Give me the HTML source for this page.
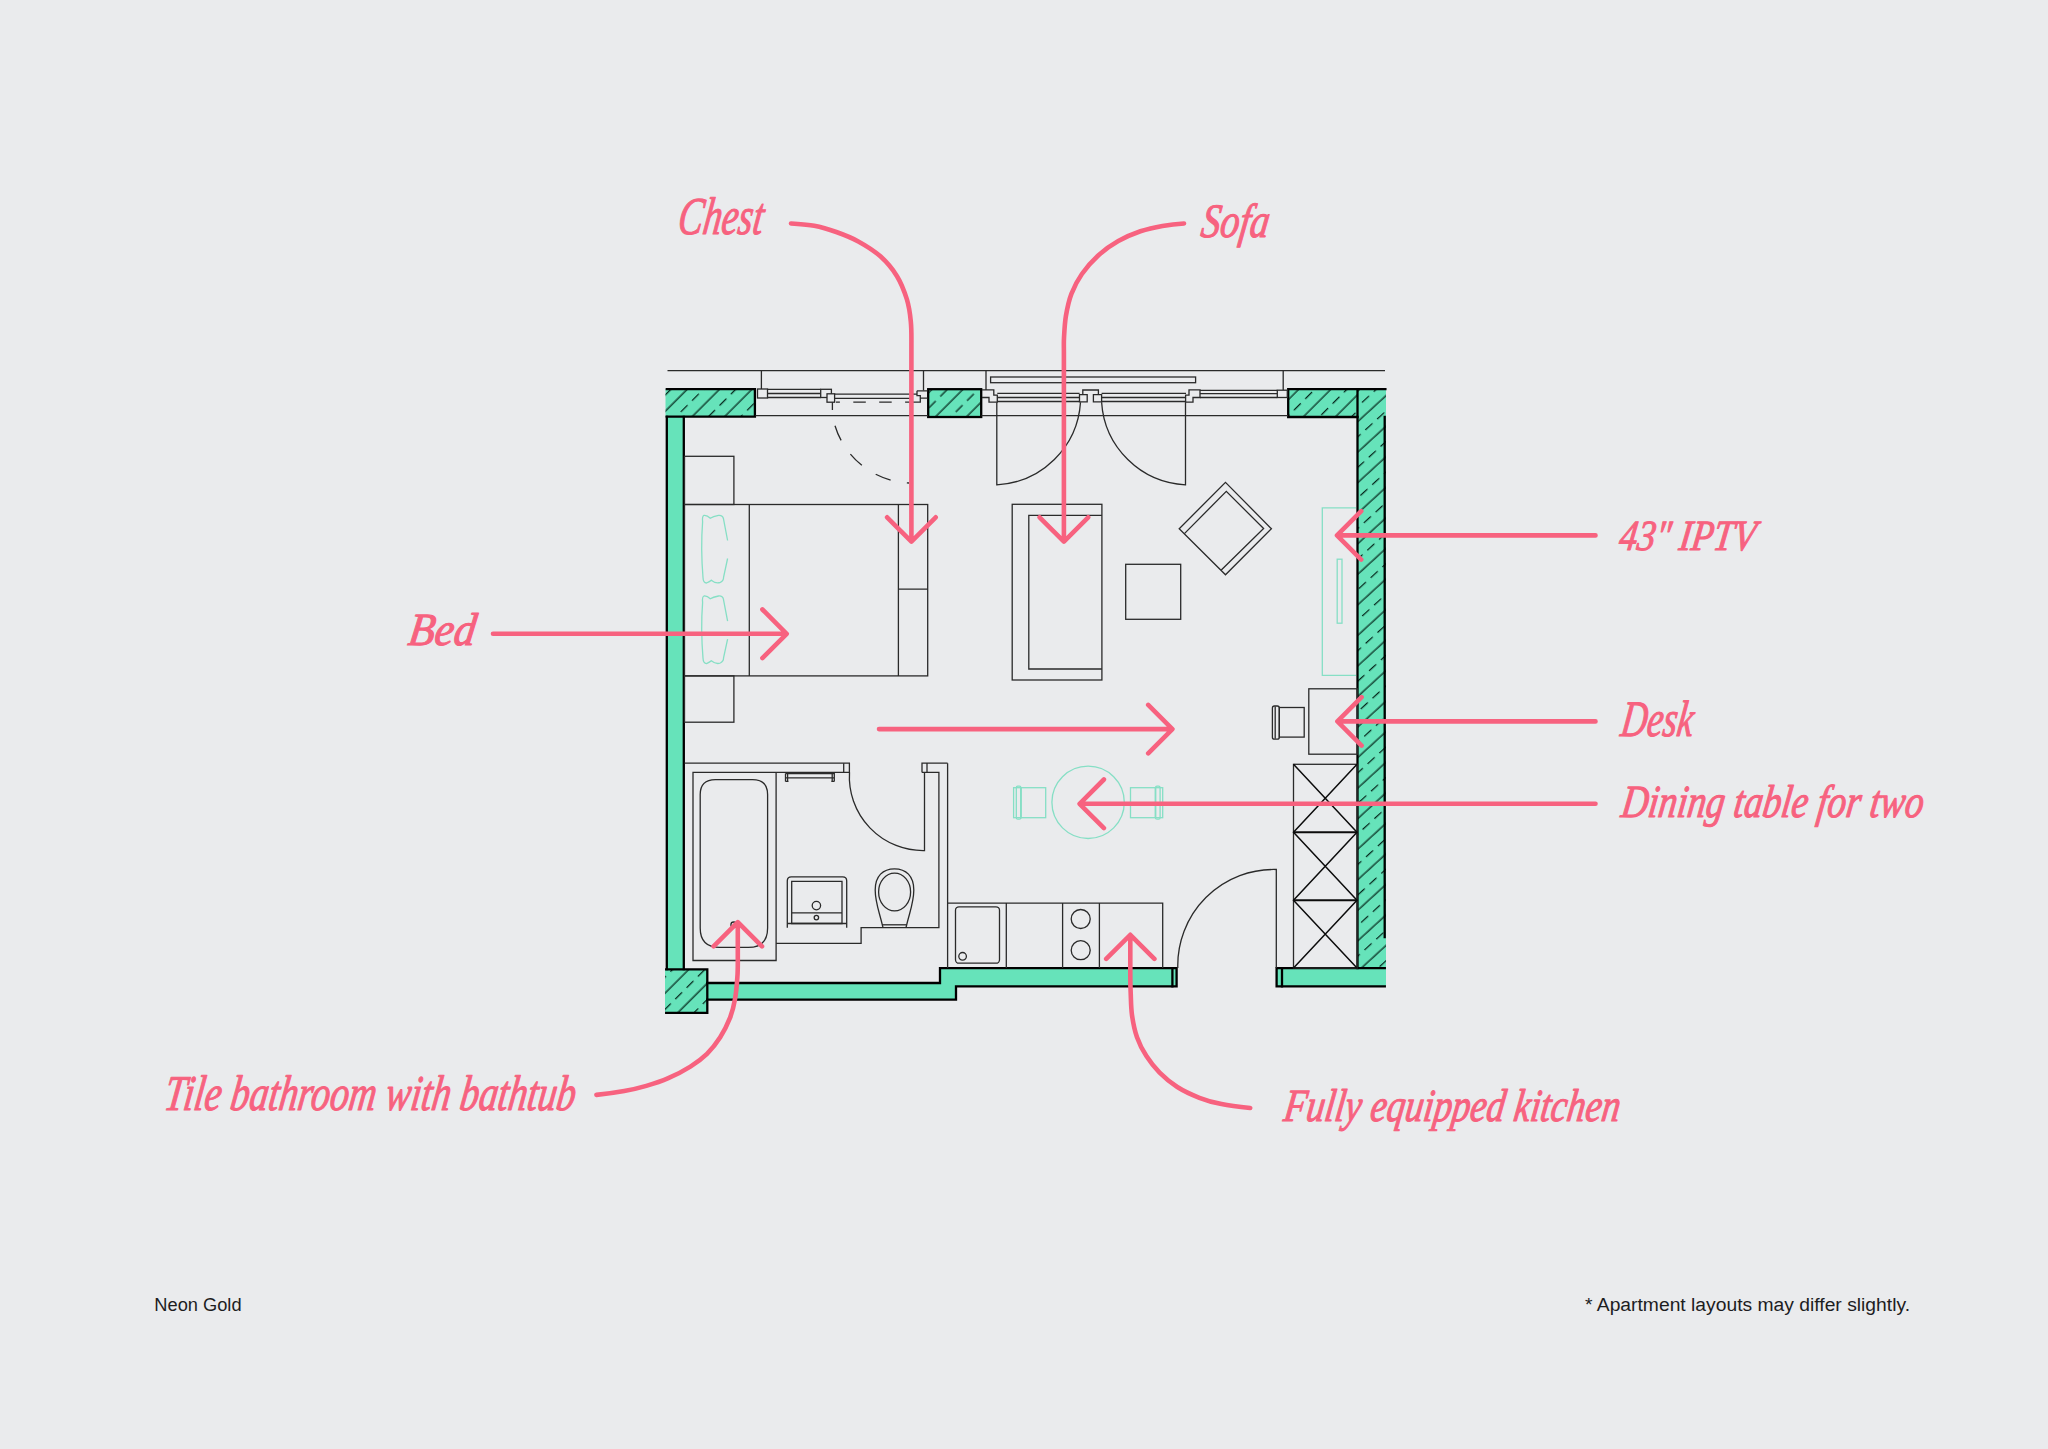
<!DOCTYPE html>
<html lang="en">
<head>
<meta charset="utf-8">
<title>Neon Gold – Apartment layout</title>
<style>
html,body{margin:0;padding:0;background:#eaebed;}
body{width:2048px;height:1449px;overflow:hidden;position:relative;font-family:"Liberation Sans",sans-serif;}
svg{position:absolute;left:0;top:0;display:block;}
.t{fill:none;stroke:#2a2a2a;stroke-width:1.3;}
.w{fill:#66e3ba;stroke:#000;stroke-width:2.2;stroke-linejoin:miter;}
.g{fill:none;stroke:#86dfc5;stroke-width:1.3;}
.p{fill:none;stroke:#f7627f;stroke-width:4.6;stroke-linecap:round;stroke-linejoin:round;}
.h{font-family:"Liberation Serif",serif;font-style:italic;fill:#f7627f;stroke:#f7627f;stroke-width:1.1;stroke-linejoin:round;}
.s{font-family:"Liberation Sans",sans-serif;fill:#1d1d1f;font-size:17.6px;}
</style>
</head>
<body>
<svg width="2048" height="1449" viewBox="0 0 2048 1449">
<defs>
<pattern id="hA" patternUnits="userSpaceOnUse" width="16" height="22.91" patternTransform="translate(688.66 412.96) rotate(-45)"><path d="M-1 5H17M11.12 16.46h9.6M-4.88 16.46h9.6" stroke="#04251a" stroke-width="1.25" fill="none"/></pattern>
<pattern id="hB" patternUnits="userSpaceOnUse" width="16" height="21.92" patternTransform="translate(931.6 413.46) rotate(-45)"><path d="M-1 5H17M2.12 15.96h9.6M-13.88 15.96h9.6" stroke="#04251a" stroke-width="1.25" fill="none"/></pattern>
<pattern id="hC" patternUnits="userSpaceOnUse" width="16" height="22.7" patternTransform="translate(1299.56 413.46) rotate(-45)"><path d="M-1 5H17M14.37 16.35h9.6M-1.63 16.35h9.6" stroke="#04251a" stroke-width="1.25" fill="none"/></pattern>
<pattern id="hD" patternUnits="userSpaceOnUse" width="16" height="22.52" patternTransform="translate(1355.22 569.81) rotate(-42.5)"><path d="M-1 5H17M5.99 16.26h9.6M-10.01 16.26h9.6" stroke="#04251a" stroke-width="1.25" fill="none"/></pattern>
<pattern id="hE" patternUnits="userSpaceOnUse" width="16" height="22.84" patternTransform="translate(661.46 989.56) rotate(-45)"><path d="M-1 5H17M3.04 16.42h9.6M-12.96 16.42h9.6" stroke="#04251a" stroke-width="1.25" fill="none"/></pattern>
</defs>
<rect width="2048" height="1449" fill="#eaebed"/>
<!--WALLS-->
<g id="walls">
<!-- hatched blocks: green base -->
<g fill="#66e3ba" stroke="none">
<rect x="665.5" y="389" width="89.5" height="28"/>
<rect x="928" y="389" width="53.5" height="28"/>
<rect x="1288" y="389" width="98" height="28"/>
<rect x="1357.5" y="389" width="28.5" height="579"/>
<rect x="665" y="969" width="42.5" height="44"/>
<rect x="667" y="417" width="17" height="552"/>
<path d="M707.5 983H940V968H1177V986.3H956V999.6H707.5Z"/>
<rect x="1276.5" y="968" width="109.5" height="18"/>
</g>
<g stroke="none">
<rect x="665.5" y="389" width="89.5" height="28" fill="url(#hA)"/>
<rect x="928" y="389" width="53.5" height="28" fill="url(#hB)"/>
<rect x="1288" y="389" width="69.5" height="28" fill="url(#hC)"/>
<rect x="1357.5" y="389" width="28.5" height="579" fill="url(#hD)"/>
<rect x="665" y="969" width="42.5" height="44" fill="url(#hE)"/>
</g>
<g fill="none" stroke="#000" stroke-width="2.3" stroke-linecap="square">
<path d="M666.8 389.2H754.9V416.7H666.8"/>
<rect x="928.2" y="389.2" width="53" height="27.8"/>
<path d="M1385.4 389.2H1288.2V417H1357.5V389.2"/>
<path d="M1357.5 417V968"/>
<path d="M1384.7 417V937"/>
<path d="M666.8 417V969M683.8 417V969"/>
<path d="M666.2 969.3H707.3V1012.8H666.2"/>
<path d="M707.3 983H940V968.2H1176.6V986.3H956V999.6H707.3"/>
<path d="M1172.4 968.2V986.3"/>
<path d="M1384.8 968.2H1276.6V986.3H1384.8"/>
<path d="M1282 968.2V986.3"/>
</g>
</g>
<!--PLAN-->
<g id="plan" class="t">
<!-- top facade lines -->
<path d="M667.5 370.6H1385"/>
<path d="M761.4 370.6V389M923.5 370.6V390.5M986 370.6V390M1283.2 370.6V390"/>
<path d="M755.5 415.6H928M981.5 415.6H1288"/>
<!-- window 1 (left, fixed + tilt) -->
<rect x="757.5" y="389" width="10" height="9"/>
<path d="M767.5 389.3H820.7M767.5 393.5H820.7M767.5 397.5H820.7"/>
<rect x="820.7" y="389.3" width="10.7" height="8.2" fill="#eaebed"/>
<rect x="827" y="393.8" width="7.6" height="8.4" fill="#eaebed"/>
<path d="M834.6 394.2H917M834.6 398.4H911"/>
<path d="M836 402.2H911" stroke-dasharray="12.5 13.4" stroke-dashoffset="8.6"/>
<path d="M832.4 402.2V410"/>
<path d="M917 390.8H927.5M917 390.8V395.6H920.3V402.2H911V398.4M920.3 398.2H927.5"/>
<path d="M835 425.7A81 81 0 0 0 909 483" stroke-dasharray="16 16.5"/>
<!-- blind -->
<rect x="990.6" y="377" width="205" height="5.7"/>
<!-- french doors -->
<path d="M982 389.8H993.8V395.2H997.3V402.2H989V397.5H982"/>
<path d="M997.3 393.4H1079.6M997.3 397.5H1079.6M997.3 401.5H1079.6"/>
<path d="M1082.8 394.7V390H1098.4V394.7M1079.5 394.7H1087.2V401.9H1079.5ZM1093.4 394.7H1101.6V401.9H1093.4Z"/>
<path d="M1101.6 393.4H1186M1101.6 397.5H1186M1101.6 401.5H1186"/>
<path d="M1185.6 395.2H1189V389.8H1200V397.5H1193V402.2H1185.6Z"/>
<path d="M1200 390.4H1277.3M1200 393.7H1277.3M1200 397.5H1277.3"/>
<rect x="1277.3" y="390.2" width="10" height="7.3"/>
<path d="M996.8 402.2V484.8A88.3 88.3 0 0 0 1080.5 402.3"/>
<path d="M1185.5 402.2V484.8A88.3 88.3 0 0 1 1101.6 402.3"/>
<!-- bed, nightstands, chest -->
<rect x="684.5" y="456.3" width="49.4" height="48.2"/>
<rect x="684.5" y="504.5" width="243.2" height="171.4"/>
<path d="M749.3 504.5V675.9M898.4 504.5V675.9M898.4 589.2H927.7"/>
<rect x="684.5" y="675.9" width="49.4" height="46.3"/>
<!-- sofa, table, armchair -->
<rect x="1012.2" y="504.3" width="89.7" height="175.7"/>
<path d="M1101.9 515.4H1028.8V669H1101.9"/>
<rect x="1125.7" y="564.3" width="55" height="55"/>
<path d="M1225.5 482.4L1271.4 528.7L1225.5 574.8L1179.2 528.7Z"/>
<path d="M1184.4 533.6L1226.3 491.4L1263.6 528.5L1221.3 570"/>
<!-- desk + chair -->
<rect x="1308.8" y="688.8" width="48.5" height="65.4"/>
<rect x="1279.3" y="707.5" width="24.9" height="29.6"/>
<rect x="1272.4" y="706" width="6.9" height="33.2" rx="2"/>
<path d="M1275.2 706.4V738.8"/>
<!-- wardrobe -->
<rect x="1293.5" y="764.3" width="63.7" height="203.7"/>
<path d="M1293.5 764.3L1357 832.2L1293.5 900.2L1357 968M1357 764.3L1293.5 832.2L1357 900.2L1293.5 968" stroke="#0c0c0c" stroke-width="1.5"/>
<path d="M1293.5 832.2H1357M1293.5 900.2H1357" stroke="#0c0c0c" stroke-width="1.9"/>
<!-- entrance door -->
<path d="M1276.3 968V869.5A96 96 0 0 0 1177.8 968"/>
<!-- kitchen -->
<path d="M947.6 763.2V968M947.6 903.2H1162.7V968M1006.3 903.2V968M1062.6 903.2V968M1099.4 903.2V968"/>
<rect x="955.5" y="906.8" width="44" height="56.4" rx="3.5"/>
<circle cx="962.6" cy="956.3" r="3.8"/>
<circle cx="1080.7" cy="919" r="9.5"/>
<circle cx="1080.7" cy="950.2" r="9.5"/>
<!-- bathroom -->
<path d="M684.5 763.2H849.4V772.4H693V960.5H776.1V772.4"/>
<path d="M843.7 763.2V772.4"/>
<path d="M715.4 779.6H752.6Q767.6 779.6 767.6 794.6V928Q767.6 947.4 748.2 947.4H719.6Q700.2 947.4 700.2 928V794.6Q700.2 779.6 715.4 779.6Z"/>
<circle cx="733.7" cy="924.8" r="2.8"/>
<path d="M785.5 773.6H834.3V781.4M785.5 773.6V781.4M787.6 773.6V781.4M832.2 773.6V781.4M785.5 777.8H834.3M785.5 781.4H788.5M831.3 781.4H834.3"/>
<path d="M849.5 772.4A73.8 73.8 0 0 0 924.5 850.6V772.4"/>
<path d="M922 772.4V763.2H947.6M927 763.2V772.4M922 772.4H938.9V927.7H861.1V943.4H776.1"/>
<!-- basin -->
<path d="M787.3 927.7V880.8Q787.3 876.8 791.3 876.8H842.7Q846.7 876.8 846.7 880.8V927.7"/>
<path d="M791.7 923.5V881.3H842V923.5ZM791.7 912.8H842"/>
<circle cx="816.4" cy="905.6" r="4.2"/>
<circle cx="816.4" cy="917.6" r="2.2"/>
<!-- toilet -->
<path d="M883 927.7C879.5 912 875.2 903 875.2 890C875.2 876 883 868.8 894.5 868.8C906 868.8 913.8 876 913.8 890C913.8 903 909.5 912 906 927.7"/>
<ellipse cx="894.6" cy="892" rx="16" ry="18.9"/>
<path d="M882.2 924.8H906.6"/>
<path d="M787.3 923.5H846.7"/>
</g>
<!--GREEN-->
<g id="greenitems" class="g">
<path id="pillow" d="M727.6 540.5L723.4 518.5Q722.6 515 718.5 515.4Q713 516.6 710.3 518.2Q707 515 704 515.4Q702 516 702.6 522Q700.6 548 703 577.5Q703.2 583 706.5 583Q709.8 581.6 711.3 580.2Q716 584 720.3 582.4Q723.6 581 723.6 577L727.6 558.5"/>
<use href="#pillow" y="80.6"/>
<path d="M1356 507.8H1322.3V675.4H1356"/>
<rect x="1337.2" y="559.2" width="4.8" height="64"/>
<circle cx="1088.1" cy="802.3" r="36.2"/>
<rect x="1020.9" y="787.7" width="24.8" height="30"/>
<rect x="1013.6" y="787.7" width="7.3" height="30"/>
<rect x="1016.3" y="786.2" width="4.6" height="33" rx="1.5"/>
<rect x="1130.5" y="787.7" width="25" height="30"/>
<rect x="1155.5" y="787.7" width="7.2" height="30"/>
<rect x="1155.5" y="786.2" width="4.6" height="33" rx="1.5"/>
</g>
<!--ARROWS-->
<g id="arrows" class="p">
<path d="M791.0 223.5C798.8 224.0 806.6 224.3 814.2 225.7C821.7 227.1 829.1 229.4 836.3 232.0C843.8 234.7 851.3 237.6 858.3 241.4C866.1 245.7 873.8 250.4 880.4 256.3C886.8 262.1 892.5 268.8 897.0 276.2C901.4 283.4 904.4 291.4 906.9 299.4C909.1 306.6 910.1 314.1 910.8 321.5C911.6 329.3 911.4 337.2 911.4 345.0V541M887.1 517.3L911.4 541.6L935.7 517.3"/>
<path d="M1184.0 223.5C1176.8 223.9 1169.6 224.7 1162.5 226.0C1155.0 227.3 1147.6 228.9 1140.4 231.3C1132.8 233.9 1125.3 237.1 1118.3 241.1C1111.3 245.1 1104.5 249.8 1098.5 255.2C1092.3 260.8 1086.7 267.2 1081.9 274.0C1077.6 280.1 1074.1 286.9 1071.4 293.9C1068.7 301.0 1067.2 308.5 1065.9 316.0C1064.7 323.3 1064.4 330.7 1064.0 338.0C1063.7 342.7 1063.9 347.3 1063.9 352.0V541M1039.6 517.3L1063.9 541.6L1088.2 517.3"/>
<path d="M493 633.8H786M762.4 609.5L786.7 633.8L762.4 658.1"/>
<path d="M879 729.1H1171.5M1148.2 704.9L1172.4 729.1L1148.2 753.3"/>
<path d="M1595.5 535.4H1338M1361.2 511.2L1337 535.4L1361.2 559.6"/>
<path d="M1595.5 721.4H1338M1361.6 697.2L1337.4 721.4L1361.6 745.6"/>
<path d="M1595.5 803.8H1080M1103.9 779.5L1079.6 803.8L1103.9 828.1"/>
<path d="M596.4 1094.9C605.7 1094.0 615.0 1092.8 624.2 1091.1C631.6 1089.8 639.0 1088.0 646.3 1085.9C653.8 1083.7 661.2 1081.3 668.3 1078.2C675.9 1074.9 683.4 1071.0 690.4 1066.6C696.3 1062.9 702.0 1058.8 707.0 1053.9C712.0 1048.9 716.4 1043.3 720.2 1037.3C724.2 1031.0 727.5 1024.3 730.2 1017.4C732.5 1011.4 734.0 1005.0 735.1 998.6C736.4 991.3 736.9 984.0 737.4 976.6C737.8 971.7 737.8 966.9 737.8 962.0V923M713.6 946.4L737.8 922.2L762 946.4"/>
<path d="M1250.2 1108.0C1240.6 1107.0 1231.0 1106.0 1221.5 1104.1C1214.0 1102.6 1206.5 1100.6 1199.4 1097.8C1191.8 1094.8 1184.2 1091.4 1177.3 1087.0C1170.9 1082.9 1165.0 1078.0 1159.6 1072.6C1154.6 1067.6 1150.2 1062.0 1146.4 1056.1C1142.6 1050.2 1139.3 1043.9 1137.0 1037.3C1134.5 1030.2 1133.1 1022.7 1132.0 1015.2C1131.0 1007.9 1131.0 1000.5 1130.7 993.1C1130.4 987.1 1130.3 981.0 1130.3 975.0V935.5M1106.2 958.9L1130.3 934.8L1154.4 958.9"/>
</g>
<!--LABELS-->
<g id="labels" class="h">
<text transform="translate(676.5 234.3) skewX(-8)" font-size="53" textLength="85" lengthAdjust="spacingAndGlyphs">Chest</text>
<text transform="translate(1199.7 236.5) skewX(-8)" font-size="48" textLength="68" lengthAdjust="spacingAndGlyphs">Sofa</text>
<text transform="translate(1618 549.5) skewX(-8)" font-size="43" textLength="136" lengthAdjust="spacingAndGlyphs">43" IPTV</text>
<text transform="translate(1619.5 735.5) skewX(-8)" font-size="51" textLength="72" lengthAdjust="spacingAndGlyphs">Desk</text>
<text transform="translate(1620 817) skewX(-8)" font-size="46" textLength="302" lengthAdjust="spacingAndGlyphs">Dining table for two</text>
<text transform="translate(163 1109.5) skewX(-8)" font-size="50" textLength="411" lengthAdjust="spacingAndGlyphs">Tile bathroom with bathtub</text>
<text transform="translate(1282.5 1120.5) skewX(-8)" font-size="46" textLength="336" lengthAdjust="spacingAndGlyphs">Fully equipped kitchen</text>
<text transform="translate(407 645) skewX(-8)" font-size="46" textLength="67" lengthAdjust="spacingAndGlyphs">Bed</text>
</g>
<text class="s" x="154.3" y="1310.6" textLength="87.3" lengthAdjust="spacingAndGlyphs">Neon Gold</text>
<text class="s" x="1585" y="1311.2" textLength="325" lengthAdjust="spacingAndGlyphs">* Apartment layouts may differ slightly.</text>
</svg>
</body>
</html>
